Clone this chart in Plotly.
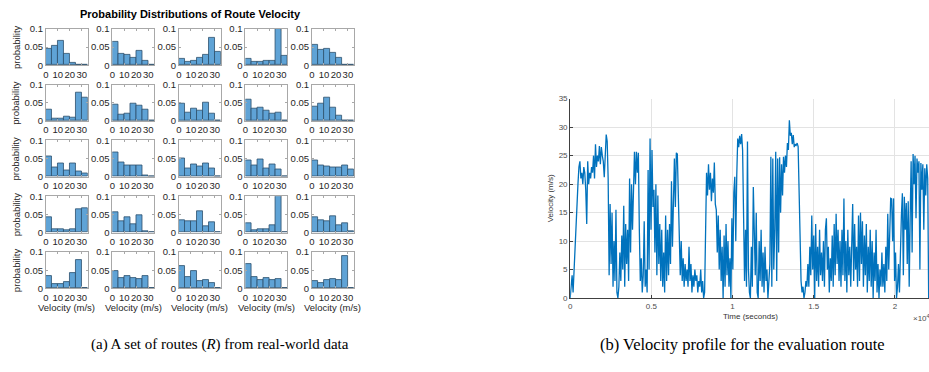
import plotly.graph_objects as go

# ---------------- data ----------------
BIN_CENTERS = [2.5, 7.5, 12.5, 17.5, 22.5, 27.5, 32.5]   # velocity bins (m/s)
BIN_WIDTH = 5
HIST_X_TICKS = [0, 10, 20, 30]
HIST_Y_TICKS = [0, 0.05, 0.1]
HIST_Y_TICK_TEXT = ["0", "0.05", "0.1"]

# probability per bin, routes in reading order (row by row)
route_01 = [0.045, 0.053, 0.066, 0.032, 0.007, 0.0, 0.0]
route_02 = [0.064, 0.032, 0.029, 0.021, 0.039, 0.013, 0.0]
route_03 = [0.017, 0.010, 0.012, 0.020, 0.028, 0.075, 0.036]
route_04 = [0.017, 0.010, 0.010, 0.011, 0.011, 0.100, 0.026]
route_05 = [0.056, 0.043, 0.044, 0.035, 0.020, 0.002, 0.0]
route_06 = [0.032, 0.007, 0.007, 0.012, 0.009, 0.077, 0.063]
route_07 = [0.046, 0.017, 0.020, 0.048, 0.042, 0.031, 0.002]
route_08 = [0.048, 0.023, 0.033, 0.028, 0.051, 0.021, 0.0]
route_09 = [0.058, 0.033, 0.038, 0.028, 0.020, 0.024, 0.0]
route_10 = [0.040, 0.047, 0.063, 0.037, 0.016, 0.0, 0.0]
route_11 = [0.057, 0.027, 0.036, 0.018, 0.036, 0.015, 0.010]
route_12 = [0.067, 0.040, 0.030, 0.030, 0.030, 0.004, 0.0]
route_13 = [0.051, 0.022, 0.034, 0.029, 0.036, 0.024, 0.002]
route_14 = [0.044, 0.030, 0.048, 0.024, 0.035, 0.021, 0.0]
route_15 = [0.046, 0.030, 0.028, 0.025, 0.025, 0.032, 0.019]
route_16 = [0.042, 0.009, 0.008, 0.006, 0.010, 0.063, 0.066]
route_17 = [0.057, 0.032, 0.042, 0.022, 0.049, 0.003, 0.0]
route_18 = [0.034, 0.032, 0.032, 0.059, 0.017, 0.028, 0.001]
route_19 = [0.027, 0.006, 0.010, 0.009, 0.019, 0.100, 0.0]
route_20 = [0.041, 0.033, 0.030, 0.046, 0.019, 0.027, 0.003]
route_21 = [0.035, 0.012, 0.013, 0.017, 0.041, 0.077, 0.0]
route_22 = [0.048, 0.029, 0.035, 0.029, 0.026, 0.033, 0.0]
route_23 = [0.062, 0.031, 0.048, 0.019, 0.022, 0.015, 0.001]
route_24 = [0.067, 0.030, 0.024, 0.028, 0.023, 0.026, 0.0]
route_25 = [0.019, 0.014, 0.022, 0.027, 0.024, 0.090, 0.0]
ROUTES = [route_01, route_02, route_03, route_04, route_05,
          route_06, route_07, route_08, route_09, route_10,
          route_11, route_12, route_13, route_14, route_15,
          route_16, route_17, route_18, route_19, route_20,
          route_21, route_22, route_23, route_24, route_25]

# evaluation route velocity profile, one reading every SAMPLE_PERIOD_S seconds
SAMPLE_PERIOD_S = 60
velocity_ms = [
    0, 2, 4, 1, 5, 10, 15, 18, 20, 23,
    24, 21, 22, 20, 23, 22, 19, 13, 24, 20,
    22, 21, 23, 22, 25, 21, 27, 23, 25, 24,
    26.7, 23.5, 26.5, 25, 24, 21.2, 26, 28.7, 27.5, 21,
    4, 16.5, 6, 15, 2, 10, 3, 15.5, 1, 0,
    2, 8, 3, 11, 5, 16.2, 2, 13, 6, 12,
    3, 21, 8, 20, 12, 18, 25.7, 20, 25.7, 22,
    25.5, 12, 3, 7, 1, 4, 13.5, 2, 5, 1,
    22.5, 5, 28, 12, 26, 16, 19, 8, 20, 4,
    18, 6, 13, 3, 12, 2, 8, 1, 14.5, 3,
    12, 4, 13, 6, 20.5, 9, 20, 24.5, 16, 25.5,
    25.3, 18, 9, 4, 10, 3, 7, 2, 6, 3,
    5, 2, 9, 3, 6, 1, 4, 2, 5, 3,
    4, 1, 3, 2, 5, 1, 3, 0, 1, 13,
    22, 18, 23.5, 19, 22, 17, 21, 18.5, 23.8, 16.5,
    15.5, 8, 14.5, 5, 12, 3, 9, 0, 11, 2,
    13, 4, 10, 2, 7, 0, 14, 5, 18.5, 21.3,
    10, 21.5, 28, 26.5, 28.5, 27, 28.8, 26, 10, 3,
    12, 2, 27.5, 5, 1, 0, 9, 2, 19.5, 10,
    4, 15, 1, 0, 10, 3, 12, 2, 8, 1,
    9, 3, 5, 0, 3, 6, 24.8, 2, 24.5, 5,
    12, 25.7, 3, 24.5, 8, 24.7, 15, 23.5, 18, 24.8,
    22, 25, 23, 27.2, 26, 31.2, 28.5, 29, 27, 28.6,
    26.5, 27, 26.8, 27.2, 26.6, 16.5, 8, 3, 1, 2,
    0, 1, 3, 2, 6, 2, 9, 4, 14.5, 5,
    11, 0, 13, 3, 9, 2, 12, 4, 8, 3,
    10, 2, 12, 14, 5, 9, 1, 7, 3, 11,
    2, 13, 4, 14.8, 6, 12, 3, 10, 2, 12,
    4, 17.5, 3, 10, 1, 12, 4, 9, 2, 11,
    16.5, 3, 13, 5, 9, 2, 14.5, 3, 15, 6,
    13.5, 2, 11, 4, 13, 1, 9, 3, 12, 2,
    10, 0, 8, 3, 12, 1, 6, 0, 5, 2,
    8, 2, 6, 1, 9, 3, 14.8, 5, 12, 17.5,
    17.4, 10, 17.5, 3, 8, 0, 2, 6, 1, 12,
    14.5, 18.4, 4, 17.8, 12, 16.7, 6, 17, 2, 14,
    24, 8, 25.3, 20, 25, 14, 24.5, 22, 24, 5,
    23.7, 19, 23.5, 12, 22.8, 18, 23.5, 21, 0,
]
time_s = [i * SAMPLE_PERIOD_S for i in range(len(velocity_ms))]
TIME_TICKS = [0, 5000, 10000, 15000, 20000]
TIME_TICK_TEXT = ["0", "0.5", "1", "1.5", "2"]
VEL_TICKS = [0, 5, 10, 15, 20, 25, 30, 35]

# ---------------- layout helpers ----------------
W, H = 929, 372
def fx(p):
    return p / W
def fy(p):
    return 1 - p / H

BAR_FILL = "#5fa3d6"
BAR_EDGE = "#2c4f6c"
HIST_AXIS = "#a8a8a8"
TXT = "#262626"
SANS = "Liberation Sans, Arial, sans-serif"
SERIF = "Liberation Serif, Times New Roman, serif"

fig = go.Figure()
layout = dict(
    width=W, height=H, margin=dict(l=0, r=0, t=0, b=0),
    paper_bgcolor="white", plot_bgcolor="white", showlegend=False,
    font=dict(family=SANS, color=TXT),
)
annotations = []

COL_LEFT0, COL_STEP, COL_W = 43, 66.75, 42
ROW_TOP0, ROW_STEP, ROW_H = 23.5, 57.5, 37.5

for k, probs in enumerate(ROUTES):
    r, c = divmod(k, 5)
    n = k + 1
    xa = "x" if n == 1 else f"x{n}"
    ya = "y" if n == 1 else f"y{n}"
    fig.add_trace(go.Bar(
        x=BIN_CENTERS, y=probs, width=BIN_WIDTH,
        marker=dict(color=BAR_FILL, line=dict(color=BAR_EDGE, width=0.8)),
        xaxis=xa, yaxis=ya, hoverinfo="skip",
    ))
    x0 = COL_LEFT0 + c * COL_STEP
    y0 = ROW_TOP0 + r * ROW_STEP
    layout["xaxis" if n == 1 else f"xaxis{n}"] = dict(
        domain=[fx(x0), fx(x0 + COL_W)], anchor=ya, range=[0, 35],
        tickvals=HIST_X_TICKS, tickangle=0, ticks="inside", ticklen=2,
        tickcolor=HIST_AXIS,
        showline=True, mirror="ticks", linecolor=HIST_AXIS, linewidth=1,
        showgrid=False, zeroline=False, fixedrange=True,
        tickfont=dict(size=9.5, color=TXT),
    )
    layout["yaxis" if n == 1 else f"yaxis{n}"] = dict(
        domain=[fy(y0 + ROW_H), fy(y0)], anchor=xa, range=[0, 0.1],
        tickvals=HIST_Y_TICKS, ticktext=HIST_Y_TICK_TEXT,
        ticks="inside", ticklen=2, tickcolor=HIST_AXIS,
        showline=True, mirror="ticks", linecolor=HIST_AXIS, linewidth=1,
        showgrid=False, zeroline=False, fixedrange=True,
        tickfont=dict(size=9.5, color=TXT),
    )
    if c == 0:
        annotations.append(dict(
            text="probability", x=fx(13), y=fy(y0 + ROW_H / 2), textangle=-90,
            font=dict(size=9.5, color=TXT)))
    if r == 4:
        annotations.append(dict(
            text="Velocity (m/s)", x=fx(x0 + COL_W / 2), y=fy(311),
            font=dict(size=9.5, color=TXT)))

annotations.append(dict(
    text="<b>Probability Distributions of Route Velocity</b>",
    x=fx(188), y=fy(8), font=dict(size=11, color="black")))

# ---------------- velocity profile ----------------
fig.add_trace(go.Scatter(
    x=time_s, y=velocity_ms, mode="lines",
    line=dict(color="#0072BD", width=1.3),
    xaxis="x26", yaxis="y26", hoverinfo="skip",
))
RIGHT_AXIS = "#404040"
layout["xaxis26"] = dict(
    domain=[fx(569), fx(929)], anchor="y26", range=[0, 22100],
    tickvals=TIME_TICKS, ticktext=TIME_TICK_TEXT, tickangle=0,
    ticks="inside", ticklen=3, tickcolor=RIGHT_AXIS,
    showline=True, linecolor=RIGHT_AXIS, linewidth=1,
    showgrid=True, gridcolor="#e3e3e3", gridwidth=1, zeroline=False,
    tickfont=dict(size=8, color="#4d4d4d"), fixedrange=True,
)
layout["yaxis26"] = dict(
    domain=[fy(301), fy(95.5)], anchor="x26", range=[0, 35],
    tickvals=VEL_TICKS, ticks="inside", ticklen=3, tickcolor=RIGHT_AXIS,
    showline=True, linecolor=RIGHT_AXIS, linewidth=1,
    showgrid=True, gridcolor="#e3e3e3", gridwidth=1, zeroline=False,
    tickfont=dict(size=8, color="#4d4d4d"), fixedrange=True,
)
annotations += [
    dict(text="Velocity (m/s)", x=fx(549), y=fy(198), textangle=-90,
         font=dict(size=8, color="#333333")),
    dict(text="Time (seconds)", x=fx(750), y=fy(320),
         font=dict(size=8, color="#333333")),
    dict(text="×10<sup>4</sup>", x=fx(921), y=fy(322),
         font=dict(size=8, color="#4d4d4d")),
    dict(text="(a) A set of routes (<i>R</i>) from real-world data",
         x=fx(218), y=fy(349), font=dict(family=SERIF, size=15, color="black")),
    dict(text="(b) Velocity profile for the evaluation route",
         x=fx(742), y=fy(349), font=dict(family=SERIF, size=16.5, color="black")),
]
for a in annotations:
    a.update(xref="paper", yref="paper", showarrow=False,
             xanchor="center", yanchor="middle")
layout["annotations"] = annotations
layout["bargap"] = 0
fig.update_layout(**layout)
fig.write_html("out.html")
